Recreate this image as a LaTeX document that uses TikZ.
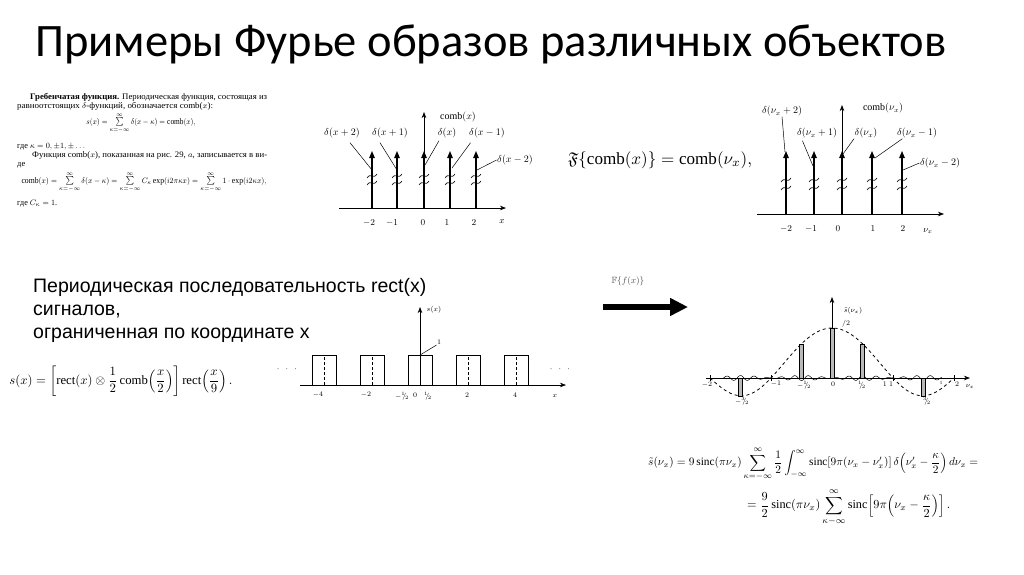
\documentclass[tikz,border=0pt]{standalone}
\usepackage{amssymb}
\usepackage{fontspec}
\setmainfont{Liberation Serif}
\newfontfamily\titlefont{Carlito}
\newfontfamily\slidefont{Liberation Sans}
\usetikzlibrary{arrows.meta}

\newcommand{\slhalf}{{}^{1}\!\!/\!{}_{2}}
\newcommand{\slthree}{{}^{3}\!\!/\!{}_{2}}

\begin{document}
\begin{tikzpicture}[x=1pt,y=-1pt,>=Stealth]
  \tikzset{
    axisline/.style={->,line width=0.7pt},
    spike/.style={-{Triangle[length=7pt,width=5.5pt]},line width=1.1pt},
    brk/.style={line width=0.6pt},
    leader/.style={line width=0.5pt},
    dlbl/.style={font=\fontsize{10}{12}\selectfont,inner sep=0.5pt},
    tlbl/.style={font=\fontsize{9}{11}\selectfont,inner sep=0.5pt},
    slbl/.style={font=\fontsize{7}{8}\selectfont,inner sep=0.5pt},
    scan/.style={anchor=base west,inner sep=0pt,font=\fontsize{8.5}{10}\selectfont},
    slide/.style={anchor=base west,inner sep=0pt,font=\slidefont\fontsize{19.5}{23}\selectfont},
    envcurve/.style={dashed,line width=0.8pt},
    sbar/.style={fill=gray!55,draw=black,line width=0.4pt}
  }
  \fill[white] (0,0) rectangle (1024,574);
  \useasboundingbox (0,0) rectangle (1024,574);

  % title
  \node[anchor=base west,inner sep=0pt,font=\titlefont\fontsize{46.5}{52}\selectfont] (title) at (35,56) {Примеры Фурье образов различных объектов};

  % scanned book text
  \node[scan] (g1) at (30,99) {\resizebox{237pt}{\height}{\textbf{Гребенчатая функция.} Периодическая функция, состоящая из}};
  \node[scan] (g2) at (17,108) {\resizebox{196pt}{\height}{равноотстоящих $\delta$-функций, обозначается comb($x$):}};
  \node[scan,anchor=base] (g3) at (141,124) {\resizebox{109pt}{\height}{$s(x)=\sum\limits_{\kappa=-\infty}^{\infty}\delta(x-\kappa)=\mathrm{comb}(x),$}};
  \node[scan] (g4) at (17,148) {\resizebox{68pt}{\height}{где $\kappa=0,\pm1,\pm\ldots$}};
  \node[scan] (g5) at (32,157) {\resizebox{235pt}{\height}{Функция comb($x$), показанная на рис. 29, $a$, записывается в ви-}};
  \node[scan] (g6) at (17,166) {де};
  \node[scan,anchor=base] (g7) at (144,183) {\resizebox{245pt}{\height}{$\mathrm{comb}(x)=\sum\limits_{\kappa=-\infty}^{\infty}\delta(x-\kappa)=\sum\limits_{\kappa=-\infty}^{\infty}C_\kappa\exp(i2\pi\kappa x)=\sum\limits_{\kappa=-\infty}^{\infty}1\cdot\exp(i2\kappa x),$}};
  \node[scan] (g8) at (17,205) {\resizebox{40pt}{\height}{где $C_\kappa=1$.}};

  % comb(x)
  \draw[axisline] (339,208) -- (506,208);
  \draw[axisline] (424,208) -- (424,112);
  \foreach \xx in {372,397,424,450,476} {
    \draw[spike] (\xx,208) -- (\xx,151);
    \draw[brk] (\xx-5,178) .. controls (\xx-1,172) and (\xx+1,180) .. (\xx+5,174);
    \draw[brk] (\xx-5,185) .. controls (\xx-1,179) and (\xx+1,187) .. (\xx+5,181);
  }
  \node[dlbl] (cmb) at (458,117) {$\mathrm{comb}(x)$};
  \node[dlbl] (dp2) at (342,133) {$\delta(x+2)$};
  \node[dlbl] (dp1) at (390,133) {$\delta(x+1)$};
  \node[dlbl] (d0) at (447,133) {$\delta(x)$};
  \node[dlbl] (dm1) at (487,133) {$\delta(x-1)$};
  \node[dlbl] (dm2) at (515,160) {$\delta(x-2)$};
  \coordinate (sp2) at (372,170);
  \coordinate (sp1) at (397,170);
  \coordinate (s0) at (425,165);
  \coordinate (sm1) at (452,168);
  \coordinate (sm2) at (477,170);
  \draw[leader] ([xshift=8pt,yshift=-4pt]dp2.south) -- (sp2);
  \draw[leader] ([xshift=-10pt,yshift=-4pt]dp1.south) -- (sp1);
  \draw[leader] ([xshift=-8pt,yshift=-2pt]d0.south) -- (s0);
  \draw[leader] ([xshift=2pt,yshift=-4pt]dm1.south west) -- (sm1);
  \draw[leader] (dm2.west) -- (sm2);
  \node[tlbl] (cxm2) at (369,223) {$-2$};
  \node[tlbl] (cxm1) at (392,223) {$-1$};
  \node[tlbl] (cx0) at (423,223) {$0$};
  \node[tlbl] (cx1) at (447,223) {$1$};
  \node[tlbl] (cx2) at (474,223) {$2$};
  \node[tlbl] (cxx) at (502,222) {$x$};

  % F{comb}
  \node[inner sep=0pt] (ftcomb) at (660,160) {\resizebox{184pt}{!}{$\mathfrak{F}\{\mathrm{comb}(x)\}=\mathrm{comb}(\nu_x),$}};

  % comb(nu_x)
  \draw[axisline] (757,214) -- (944,214);
  \draw[axisline] (842,214) -- (842,105);
  \foreach \xx in {786,814,842,872,902} {
    \draw[spike] (\xx,214) -- (\xx,151);
    \draw[brk] (\xx-5,182) .. controls (\xx-1,176) and (\xx+1,184) .. (\xx+5,178);
    \draw[brk] (\xx-5,190) .. controls (\xx-1,184) and (\xx+1,192) .. (\xx+5,186);
  }
  \node[dlbl] (vcmb) at (883,108) {$\mathrm{comb}(\nu_x)$};
  \node[dlbl] (ep2) at (782,111) {$\delta(\nu_x+2)$};
  \node[dlbl] (ep1) at (817,133) {$\delta(\nu_x+1)$};
  \node[dlbl] (e0) at (866,133) {$\delta(\nu_x)$};
  \node[dlbl] (em1) at (917,133) {$\delta(\nu_x-1)$};
  \node[dlbl] (em2) at (940,163) {$\delta(\nu_x-2)$};
  \coordinate (fp2) at (785,152);
  \coordinate (fp1) at (813,166);
  \coordinate (f0) at (843,154);
  \coordinate (fm1) at (875,158);
  \coordinate (fm2) at (903,170);
  \draw[leader] (ep2.south) -- (fp2);
  \draw[leader] ([xshift=6pt,yshift=-2pt]ep1.south west) -- (fp1);
  \draw[leader] (e0.south west) -- (f0);
  \draw[leader] ([xshift=6pt]em1.south west) -- (fm1);
  \draw[leader] (em2.west) -- (fm2);
  \node[tlbl] (vxm2) at (786,229) {$-2$};
  \node[tlbl] (vxm1) at (811,229) {$-1$};
  \node[tlbl] (vx0) at (838,229) {$0$};
  \node[tlbl] (vx1) at (873,229) {$1$};
  \node[tlbl] (vx2) at (903,229) {$2$};
  \node[tlbl] (vxn) at (928,231) {$\nu_x$};

  % slide text
  \node[slide] (p1) at (33,292) {Периодическая последовательность rect(x)};
  \node[slide] (p2) at (33,315) {сигналов,};
  \node[slide] (p3) at (33,338) {ограниченная по координате x};

  \node[inner sep=0pt] (sdef) at (121,381) {\resizebox{223pt}{!}{$\displaystyle s(x)=\left[\mathrm{rect}(x)\otimes\frac{1}{2}\,\mathrm{comb}\!\left(\frac{x}{2}\right)\right]\mathrm{rect}\!\left(\frac{x}{9}\right).$}};

  % rect train
  \draw[axisline] (300,385) -- (566,385);
  \draw[axisline] (420,385) -- (420,307);
  \foreach \c in {324,372,420,468,516}
    \draw[line width=0.8pt] (\c-12,385) -- (\c-12,355) -- (\c+12,355) -- (\c+12,385);
  \foreach \c in {324,372,468,516}
    \draw[densely dashed,line width=0.6pt] (\c,385) -- (\c,355);
  \node[tlbl] (ldots) at (287,369) {$\cdot\;\,\cdot\;\,\cdot$};
  \node[tlbl] (rdots) at (560,369) {$\cdot\;\,\cdot\;\,\cdot$};
  \node[slbl] (sx) at (434,310) {$s(x)$};
  \node[slbl] (one) at (439,342) {1};
  \coordinate (rtop) at (420,355);
  \draw[leader] (one.south west) -- (rtop);
  \node[slbl] (rxm4) at (318,395) {$-4$};
  \node[slbl] (rxm2) at (366,395) {$-2$};
  \node[slbl] (rxmh) at (402,396) {$-\slhalf$};
  \node[slbl] (rx0) at (415,395) {$0$};
  \node[slbl] (rxh) at (428,396) {$\slhalf$};
  \node[slbl] (rx2) at (467,395) {$2$};
  \node[slbl] (rx4) at (515,395) {$4$};
  \node[slbl] (rxx) at (555,396) {$x$};

  % transform arrow
  \node[font=\fontsize{9}{10}\selectfont,text=black!70] (fop) at (628,281) {$\mathbb{F}\{f(x)\}$};
  \coordinate (aL) at (603,307);
  \coordinate (aR) at (688,307);
  \draw[line width=6pt,-{Triangle[length=18pt,width=17pt]}] (aL) -- (aR);

  % spectrum
  \draw[axisline] (706,378) -- (970,378);
  \draw[axisline] (832,378) -- (832,297);
  \foreach \v in {-2,-1,1,2}
    \draw[line width=0.5pt] ({832+61*\v},375) -- ({832+61*\v},381);
  \draw[envcurve] plot[domain=-2:2,samples=121,smooth] ({832+61*\x},{378-50*sin(180*(\x+0.0001))/(3.14159*(\x+0.0001))*(1+0.3*\x*\x)});
  \draw[line width=0.5pt] plot[domain=-1.8:1.8,samples=400,smooth] ({832+61*\x},{378-2.5*sin(1620*\x)*abs(sin(180*\x))});
  \foreach \v/\h in {-1.5/-17.8,-0.5/34.2,0/50,0.5/34.2,1.5/-17.8}
    \filldraw[sbar] ({832+61*\v-2},378) rectangle ({832+61*\v+2},{378-\h});
  \node[slbl] (st1) at (853,311) {$\tilde{s}(\nu_x)$};
  \node[slbl] (st2) at (846,324) {$/2$};
  \node[slbl] (nm2) at (707,385) {$-2$};
  \node[slbl] (nm1) at (776,384) {$-1$};
  \node[slbl] (nmh) at (804,385) {$-\slhalf$};
  \node[slbl] (n0) at (833,384) {$0$};
  \node[slbl] (nh) at (862,385) {$\slhalf$};
  \node[slbl] (n1) at (888,384) {$1\;1$};
  \node[font=\fontsize{5}{6}\selectfont,inner sep=0pt] (nsm) at (941,383) {1};
  \node[slbl] (n2) at (957,384) {$2$};
  \node[slbl] (nnu) at (970,386) {$\nu_x$};
  \node[slbl] (nm3h) at (742,401) {$-\slthree$};
  \node[slbl] (n3h) at (927,401) {$\slthree$};

  % spectrum formula
  \node[anchor=west,inner sep=0pt] (bf1) at (648,464) {\resizebox{330pt}{!}{$\displaystyle \tilde{s}(\nu_x)=9\,\mathrm{sinc}(\pi\nu_x)\sum_{\kappa=-\infty}^{\infty}\frac{1}{2}\int_{-\infty}^{\infty}\mathrm{sinc}[9\pi(\nu_x-\nu'_x)]\,\delta\!\left(\nu'_x-\frac{\kappa}{2}\right)d\nu_x=$}};
  \node[anchor=west,inner sep=0pt] (bf2) at (747,507) {\resizebox{203pt}{!}{$\displaystyle =\frac{9}{2}\,\mathrm{sinc}(\pi\nu_x)\sum_{\kappa-\infty}^{\infty}\mathrm{sinc}\!\left[9\pi\!\left(\nu_x-\frac{\kappa}{2}\right)\right].$}};
\end{tikzpicture}
\end{document}
